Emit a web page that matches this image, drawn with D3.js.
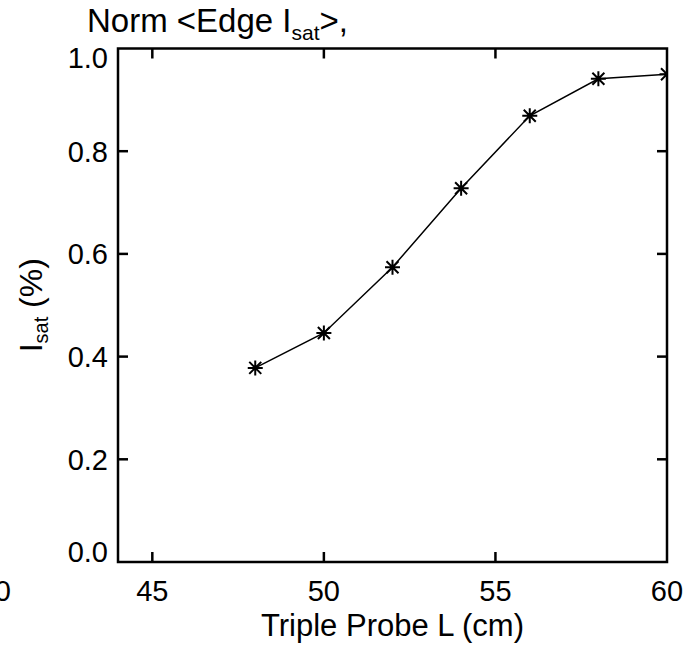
<!DOCTYPE html>
<html>
<head>
<meta charset="utf-8">
<script src="https://cdn.jsdelivr.net/npm/d3@7"></script>
<style>
  html, body { margin: 0; padding: 0; background: #fff; }
  svg { display: block; }
  text { font-family: "Liberation Sans", Arial, Helvetica, sans-serif; fill: #000; }
</style>
</head>
<body>
<svg id="chart" width="695" height="647"></svg>
<script>
// Probe position (cm) and normalised edge saturation current
const probeL = [48, 50, 52, 54, 56, 58, 60];
const isatNorm = [0.378, 0.446, 0.574, 0.728, 0.869, 0.941, 0.950];

const xTickValues = [45, 50, 55, 60];
const xTickLabels = ["40", "45", "50", "55", "60"];
const yTickValues = [0.0, 0.2, 0.4, 0.6, 0.8, 1.0];

const W = 695, H = 647;
const margin = { left: 118, right: 28, top: 48.5, bottom: 85 };
const svg = d3.select("#chart");

const x = d3.scaleLinear().domain([44, 60]).range([margin.left, W - margin.right]);
const y = d3.scaleLinear().domain([0, 1]).range([H - margin.bottom, margin.top]);

const x0 = x.range()[0], x1 = x.range()[1];
const y0 = y.range()[0], y1 = y.range()[1];
const tickLen = 10;

// clip region for the data
svg.append("defs").append("clipPath").attr("id", "plotClip")
  .append("rect").attr("x", x0).attr("y", y1).attr("width", x1 - x0).attr("height", y0 - y1);

// data line
const line = d3.line().x((d, i) => x(probeL[i])).y(d => y(d));
const g = svg.append("g").attr("clip-path", "url(#plotClip)");
g.append("path").datum(isatNorm).attr("d", line)
  .attr("fill", "none").attr("stroke", "#000").attr("stroke-width", 1.5);

// asterisk markers
const r = 7.5, rd = 6;
const star = `M${-r},0L${r},0M0,${-r}L0,${r}M${-rd},${-rd}L${rd},${rd}M${-rd},${rd}L${rd},${-rd}`;
g.selectAll("path.mark").data(isatNorm).join("path").attr("class", "mark")
  .attr("transform", (d, i) => `translate(${x(probeL[i])},${y(d)})`)
  .attr("d", star).attr("fill", "none").attr("stroke", "#000").attr("stroke-width", 2);

// x ticks (bottom + top, inward)
const xt = xTickValues.filter(v => v > 44 && v < 60);
svg.append("g").selectAll("line").data(xt).join("line")
  .attr("x1", d => x(d)).attr("x2", d => x(d)).attr("y1", y0).attr("y2", y0 - tickLen)
  .attr("stroke", "#000").attr("stroke-width", 2.5);
svg.append("g").selectAll("line").data(xt).join("line")
  .attr("x1", d => x(d)).attr("x2", d => x(d)).attr("y1", y1).attr("y2", y1 + tickLen)
  .attr("stroke", "#000").attr("stroke-width", 2.5);

// y ticks (left + right, inward)
const yt = yTickValues.filter(v => v > 0 && v < 1);
svg.append("g").selectAll("line").data(yt).join("line")
  .attr("x1", x0).attr("x2", x0 + tickLen).attr("y1", d => y(d)).attr("y2", d => y(d))
  .attr("stroke", "#000").attr("stroke-width", 2.5);
svg.append("g").selectAll("line").data(yt).join("line")
  .attr("x1", x1).attr("x2", x1 - tickLen).attr("y1", d => y(d)).attr("y2", d => y(d))
  .attr("stroke", "#000").attr("stroke-width", 2.5);

// frame
svg.append("rect").attr("x", x0).attr("y", y1).attr("width", x1 - x0).attr("height", y0 - y1)
  .attr("fill", "none").attr("stroke", "#000").attr("stroke-width", 2.5);

// x tick labels
const xLab = [40, 45, 50, 55, 60];
svg.append("g").selectAll("text").data(xLab).join("text")
  .attr("x", d => d === 40 ? x(40) + 14 : x(d))
  .attr("y", y0 + 39)
  .attr("text-anchor", "middle").attr("font-size", 29)
  .text((d, i) => xTickLabels[i]);

// y tick labels
svg.append("g").selectAll("text").data(yTickValues).join("text")
  .attr("x", x0 - 10)
  .attr("y", d => y(d) + (d === 0 ? -10 : d === 1 ? 9 : 0))
  .attr("dy", "0.36em")
  .attr("text-anchor", "end").attr("font-size", 29)
  .text(d => d.toFixed(1));

// x axis title
svg.append("text").attr("x", (x0 + x1) / 2).attr("y", 636)
  .attr("text-anchor", "middle").attr("font-size", 31)
  .text("Triple Probe L (cm)");

// y axis title
const yt2 = svg.append("text")
  .attr("transform", `translate(42,${(y0 + y1) / 2}) rotate(-90)`)
  .attr("text-anchor", "middle").attr("font-size", 32);
yt2.append("tspan").text("I");
yt2.append("tspan").attr("font-size", 20).attr("dy", 6).text("sat");
yt2.append("tspan").attr("dy", -6).text(" (%)");

// plot title
const tt = svg.append("text").attr("x", 87).attr("y", 32).attr("font-size", 33);
tt.append("tspan").text("Norm <Edge I");
tt.append("tspan").attr("font-size", 21).attr("dy", 8).text("sat");
tt.append("tspan").attr("dy", -8).text(">,");
</script>
</body>
</html>
